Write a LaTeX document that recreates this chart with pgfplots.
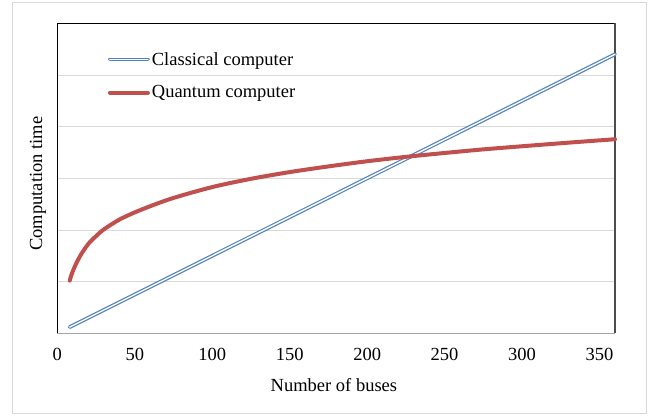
\documentclass[border=0pt]{standalone}
\usepackage{fontspec}
\setmainfont{Liberation Serif}
\usepackage{pgfplots}
\pgfplotsset{compat=1.18}
\definecolor{cblue}{HTML}{4F81BD}
\definecolor{cred}{HTML}{C0504D}
\definecolor{cgrid}{HTML}{D9D9D9}
\begin{document}
\begin{tikzpicture}
\begin{axis}[
  at={(0pt,0pt)}, anchor=south west,
  scale only axis, width=557.7pt, height=310pt,
  xmin=0, xmax=360, ymin=0, ymax=6,
  xtick={0,50,...,350}, ytick={0,1,...,6}, yticklabels={},
  major tick length=0pt,
  ymajorgrids, grid style={cgrid, line width=0.9pt},
  axis line style={draw=none},
  font=\fontsize{18.5}{22}\selectfont,
  /pgf/number format/assume math mode=true,
  xticklabel style={yshift=-11pt},
  xlabel={Number of buses}, ylabel={Computation time},
  xlabel style={at={(axis description cs:0.496,-0.1668)}, anchor=center},
  ylabel style={at={(axis description cs:-0.0346,0.483)}, anchor=center},
  legend style={at={(axis description cs:0.085,0.92)}, anchor=north west, draw=none, fill=none, row sep=15pt, nodes={inner sep=2pt}},
  legend cell align=left,
  legend image code/.code={\draw[#1] (0pt,0pt) -- (38pt,0pt);},
  clip=false,
]
\draw[black, line width=0.8pt] (rel axis cs:0,0) -- (rel axis cs:0,1) -- (rel axis cs:1,1);
\draw[black!70, line width=2pt] (rel axis cs:1,1) -- (rel axis cs:1,0);
\draw[black!35, line width=0.9pt] (rel axis cs:0,0) -- (rel axis cs:1,0);
\addplot[cblue, double=white, double distance=1.4pt, line width=1.2pt, line cap=round] coordinates {(8,0.12) (360,5.4)};
\addlegendentry{Classical computer}
\addplot[cred, line width=4pt, smooth, line cap=round] coordinates {
(8,1.02) (9,1.12) (10,1.20) (12,1.34) (15,1.51) (20,1.73) (25,1.88) (30,2.01) (40,2.20) (50,2.34) (60,2.46) (75,2.62) (100,2.83) (125,2.99) (150,3.12) (175,3.23) (200,3.33) (225,3.415) (250,3.49) (275,3.56) (300,3.62) (330,3.69) (360,3.756)};
\addlegendentry{Quantum computer}
\end{axis}
\pgfresetboundingbox
\path[use as bounding box] (-57.3pt,-83.7pt) rectangle (597.7pt,333.3pt);
\draw[cgrid, line width=1pt] (-44.6pt,-79.7pt) rectangle (588.7pt,330.6pt);
\end{tikzpicture}
\end{document}
